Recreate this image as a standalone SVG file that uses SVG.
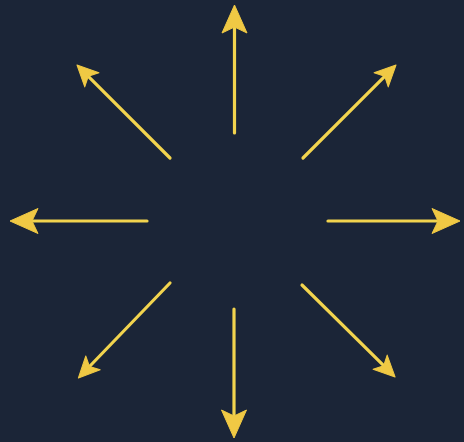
<svg xmlns="http://www.w3.org/2000/svg" width="464" height="442" viewBox="0 0 464 442">
  <defs>
    <style>
      .bg { fill: #1b2537; }
      .shaft { stroke: #f2d44e; stroke-width: 3.2; stroke-linecap: round; fill: none; }
      .head { fill: #f0c944; stroke: #f0c944; stroke-width: 1; stroke-linejoin: round; }
    </style>
    <marker id="headL" markerUnits="userSpaceOnUse" orient="auto" refX="0" refY="0" markerWidth="60" markerHeight="60" overflow="visible">
      <path class="head" d="M0,0 L-6,-12.5 L22,0 L-6,12.5 Z"/>
    </marker>
    <marker id="headS" markerUnits="userSpaceOnUse" orient="auto" refX="0" refY="0" markerWidth="60" markerHeight="60" overflow="visible">
      <path class="head" d="M0,0 L-5,-10 L16,0 L-5,10 Z"/>
    </marker>
  </defs>
  <rect class="bg" x="0" y="0" width="464" height="442"/>
  <g id="connectors">
    <g id="arrow-up"><line class="shaft" x1="234.5" y1="133" x2="234.5" y2="27" marker-end="url(#headL)"/></g>
    <g id="arrow-down"><line class="shaft" x1="234" y1="309" x2="234" y2="416" marker-end="url(#headL)"/></g>
    <g id="arrow-left"><line class="shaft" x1="147" y1="221" x2="32" y2="221" marker-end="url(#headL)"/></g>
    <g id="arrow-right"><line class="shaft" x1="328" y1="221" x2="438" y2="221" marker-end="url(#headL)"/></g>
    <g id="arrow-ne"><line class="shaft" x1="303" y1="158" x2="384.7" y2="76.3" marker-end="url(#headS)"/></g>
    <g id="arrow-nw"><line class="shaft" x1="170" y1="158" x2="88.3" y2="76.3" marker-end="url(#headS)"/></g>
    <g id="arrow-sw"><line class="shaft" x1="170" y1="283" x2="89.5" y2="366.5" marker-end="url(#headS)"/></g>
    <g id="arrow-se"><line class="shaft" x1="302" y1="285" x2="383.7" y2="365.7" marker-end="url(#headS)"/></g>
  </g>
</svg>
